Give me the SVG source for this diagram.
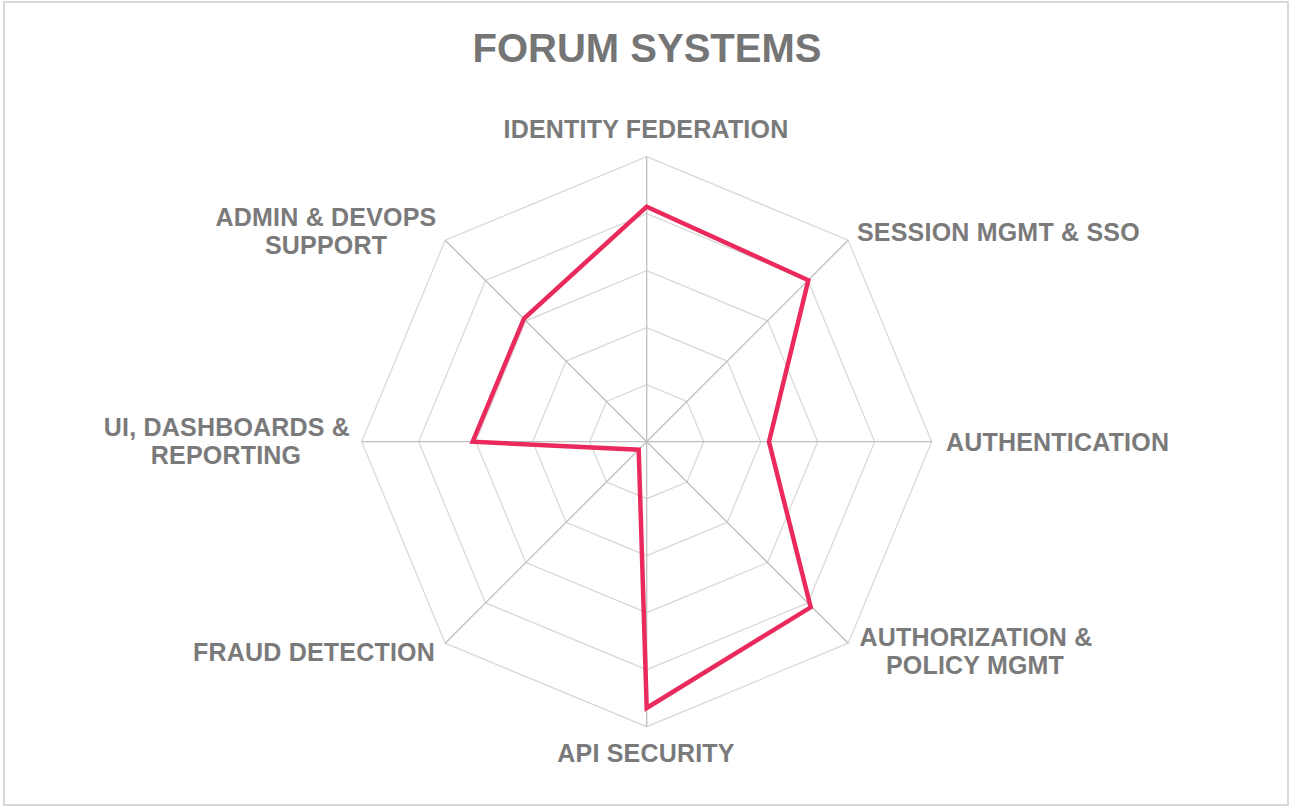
<svg xmlns="http://www.w3.org/2000/svg" width="1290" height="807" viewBox="0 0 1290 807">
<style>
.bg{fill:#ffffff;stroke:#d9d9d9;stroke-width:2}
.ring{fill:none;stroke:#d9d9d9;stroke-width:1.3}
.spoke{stroke:#bfbfbf;stroke-width:1.3}
.data{fill:none;stroke:#ea2a5c;stroke-width:4.5;stroke-linejoin:miter}
.title{font-family:"Liberation Sans",Arial,sans-serif;font-weight:bold;font-size:40px;fill:#757575}
.lbl{font-family:"Liberation Sans",Arial,sans-serif;font-weight:bold;font-size:25px;letter-spacing:0.2px;fill:#7a7a7a}
</style>
<rect class="bg" x="4" y="2" width="1284" height="803"/>
<text class="title" x="647" y="62" text-anchor="middle">FORUM SYSTEMS</text>
<g id="grid">
<polygon class="ring" points="646.7,156.7 848.2,240.2 931.7,441.7 848.2,643.2 646.7,726.7 445.2,643.2 361.7,441.7 445.2,240.2"/>
<polygon class="ring" points="646.7,213.7 807.9,280.5 874.7,441.7 807.9,602.9 646.7,669.7 485.5,602.9 418.7,441.7 485.5,280.5"/>
<polygon class="ring" points="646.7,270.7 767.6,320.8 817.7,441.7 767.6,562.6 646.7,612.7 525.8,562.6 475.7,441.7 525.8,320.8"/>
<polygon class="ring" points="646.7,327.7 727.3,361.1 760.7,441.7 727.3,522.3 646.7,555.7 566.1,522.3 532.7,441.7 566.1,361.1"/>
<polygon class="ring" points="646.7,384.7 687,401.4 703.7,441.7 687,482 646.7,498.7 606.4,482 589.7,441.7 606.4,401.4"/>
<line class="spoke" x1="646.7" y1="441.7" x2="646.7" y2="156.7"/>
<line class="spoke" x1="646.7" y1="441.7" x2="848.2" y2="240.2"/>
<line class="spoke" x1="646.7" y1="441.7" x2="931.7" y2="441.7"/>
<line class="spoke" x1="646.7" y1="441.7" x2="848.2" y2="643.2"/>
<line class="spoke" x1="646.7" y1="441.7" x2="646.7" y2="726.7"/>
<line class="spoke" x1="646.7" y1="441.7" x2="445.2" y2="643.2"/>
<line class="spoke" x1="646.7" y1="441.7" x2="361.7" y2="441.7"/>
<line class="spoke" x1="646.7" y1="441.7" x2="445.2" y2="240.2"/>
</g>
<g id="series">
<polygon class="data" points="646.7,206.7 808.3,280.2 769,441.7 810.7,607.3 646.7,708 638.7,449.7 472.7,441.7 524,318.5"/>
</g>
<g id="labels">
<text class="lbl" x="646" y="138" text-anchor="middle">IDENTITY FEDERATION</text>
<text class="lbl" x="857" y="241">SESSION MGMT &amp; SSO</text>
<text class="lbl" x="946" y="451">AUTHENTICATION</text>
<text class="lbl" x="976" y="646" text-anchor="middle">AUTHORIZATION &amp;</text>
<text class="lbl" x="975" y="674" text-anchor="middle">POLICY MGMT</text>
<text class="lbl" x="646" y="762" text-anchor="middle">API SECURITY</text>
<text class="lbl" x="435" y="661" text-anchor="end">FRAUD DETECTION</text>
<text class="lbl" x="227" y="436" text-anchor="middle">UI, DASHBOARDS &amp;</text>
<text class="lbl" x="226" y="464" text-anchor="middle">REPORTING</text>
<text class="lbl" x="326" y="226" text-anchor="middle">ADMIN &amp; DEVOPS</text>
<text class="lbl" x="326" y="254" text-anchor="middle">SUPPORT</text>
</g>
</svg>
